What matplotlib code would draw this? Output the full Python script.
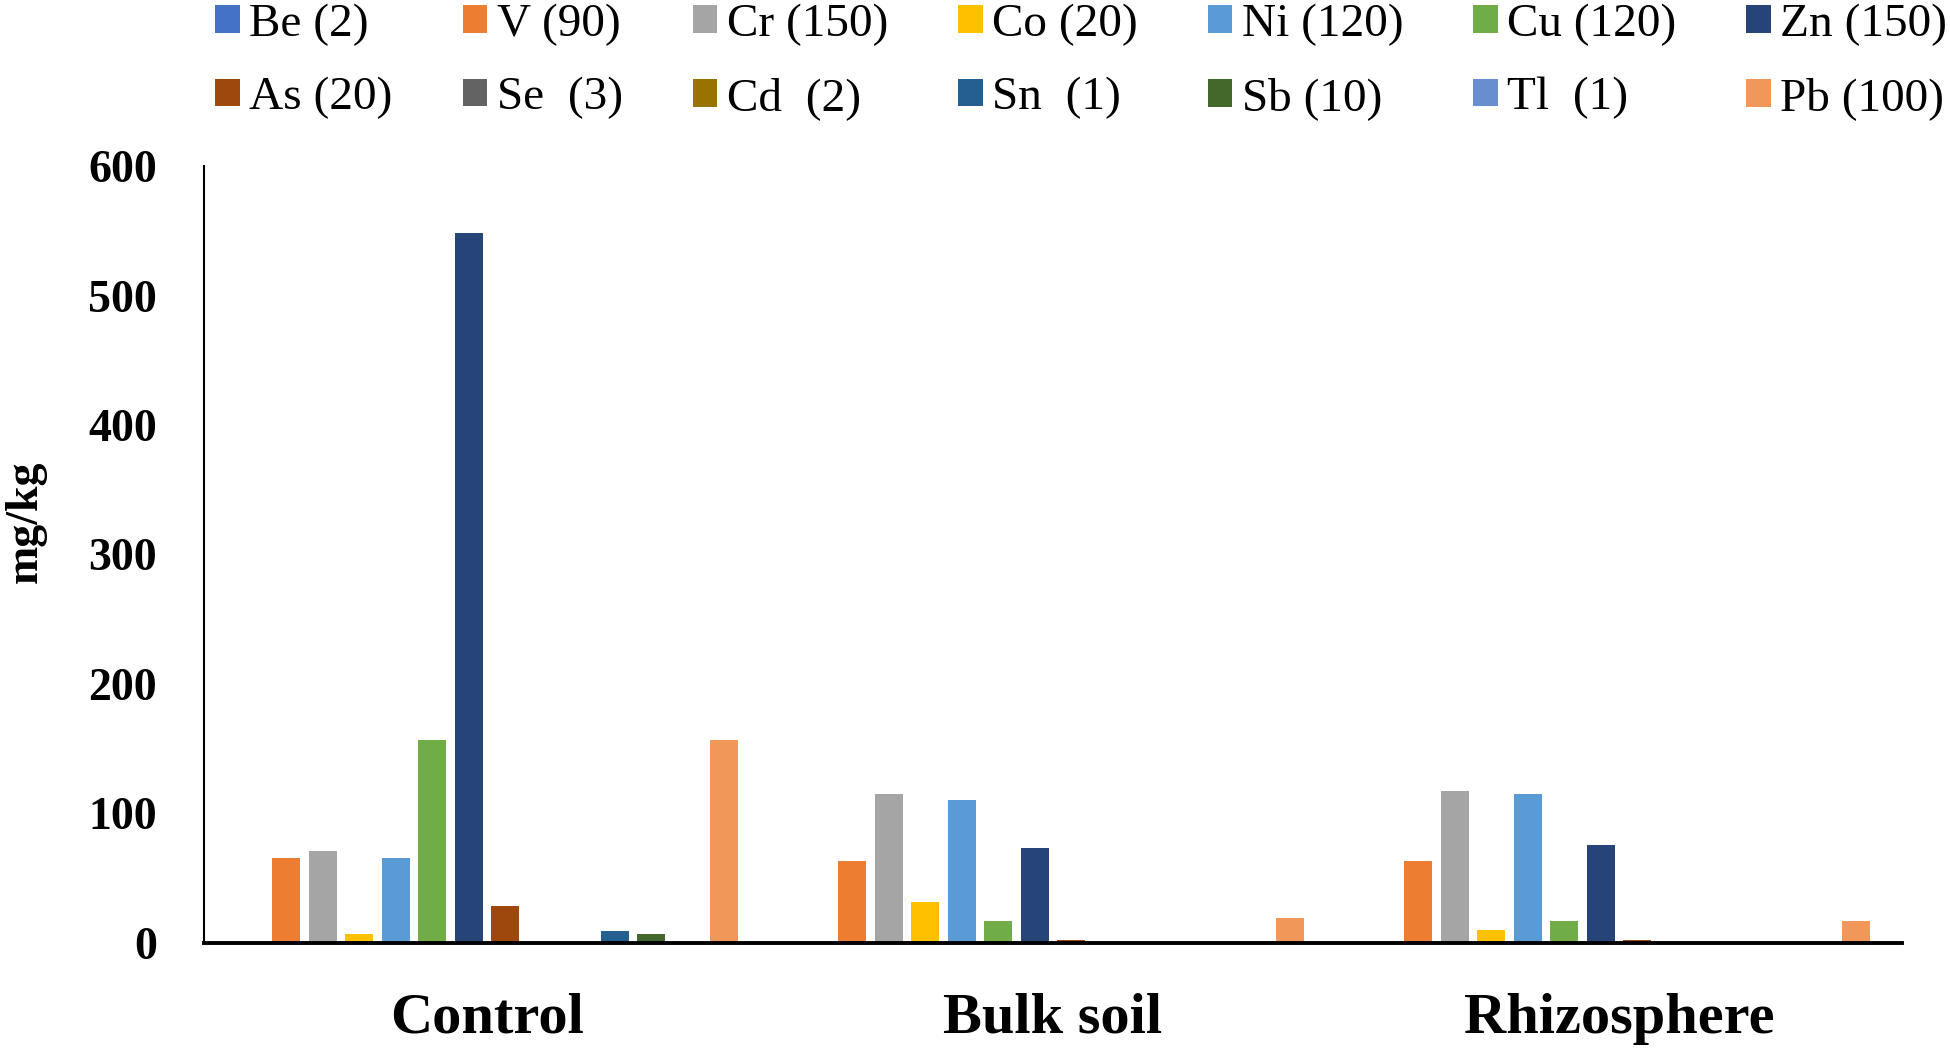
import matplotlib
matplotlib.use('Agg')
import matplotlib.pyplot as plt
import numpy as np

plt.rcParams['font.family'] = ['Liberation Serif', 'DejaVu Serif']

# sites and elements (guide values in brackets)
sites = ['Control', 'Bulk soil', 'Rhizosphere']
labels = ['Be (2)', 'V (90)', 'Cr (150)', 'Co (20)', 'Ni (120)', 'Cu (120)', 'Zn (150)',
          'As (20)', 'Se  (3)', 'Cd  (2)', 'Sn  (1)', 'Sb (10)', 'Tl  (1)', 'Pb (100)']
colors = ['#4472C4', '#ED7D31', '#A5A5A5', '#FFC000', '#5B9BD5', '#70AD47', '#264478',
          '#9E480E', '#636363', '#997300', '#255E91', '#43682B', '#698ED0', '#F1975A']

# mg/kg per element: [Control, Bulk soil, Rhizosphere]
be = [1.0, 0.3, 0.3]
v = [65.5, 63.5, 63.5]
cr = [71.0, 115.0, 117.5]
co = [7.0, 32.0, 10.0]
ni = [65.5, 110.5, 115.0]
cu = [156.5, 17.0, 17.0]
zn = [548.0, 73.0, 75.5]
as_ = [28.5, 2.0, 2.0]
se = [0.3, 0.2, 0.2]
cd = [0.2, 0.2, 0.2]
sn = [9.0, 0.5, 0.3]
sb = [7.0, 0.5, 0.3]
tl = [0.3, 0.5, 0.5]
pb = [156.5, 19.0, 17.0]

series = [be, v, cr, co, ni, cu, zn, as_, se, cd, sn, sb, tl, pb]

fig = plt.figure(figsize=(19.5, 10.48), dpi=100)
ax = fig.add_axes([0.1046, 0.1002, 0.8708, 0.7414])

x = np.arange(len(sites))
step = 0.0645
width = 0.05
bars = []
for i, vals in enumerate(series):
    b = ax.bar(x + (i - 6.5) * step, vals, width, color=colors[i], label=labels[i], zorder=2)
    bars.append(b)

ax.set_xlim(-0.5, 2.5)
ax.set_ylim(0, 600)
ax.set_yticks(np.arange(0, 601, 100))
ax.set_xticks(x)
ax.set_xticklabels(sites, fontsize=42, fontweight='bold')
ax.tick_params(axis='y', length=0, pad=34, labelsize=33)
ax.tick_params(axis='x', length=0, pad=36)
for t in ax.get_yticklabels():
    t.set_fontweight('bold')

for s in ['top', 'right']:
    ax.spines[s].set_visible(False)
ax.spines['left'].set_linewidth(1.5)
ax.spines['bottom'].set_linewidth(2.8)
ax.spines['bottom'].set_zorder(3)

ax.set_ylabel('mg/kg', fontsize=33, fontweight='bold')
ax.yaxis.label.set_verticalalignment('center')
ax.yaxis.set_label_coords(-0.105, 0.542)

# legend: two rows of seven, filled row by row
order = []
for c in range(7):
    order += [c, c + 7]
fig.legend([bars[k] for k in order], [labels[k] for k in order],
           ncol=7, loc='upper left', bbox_to_anchor=(0.1105, 0.997),
           frameon=False, fontsize=34, handlelength=0.52, handleheight=0.52,
           handletextpad=0.2, columnspacing=1.48, labelspacing=0.66,
           borderpad=0, borderaxespad=0)

fig.savefig('out.png', dpi=100)
